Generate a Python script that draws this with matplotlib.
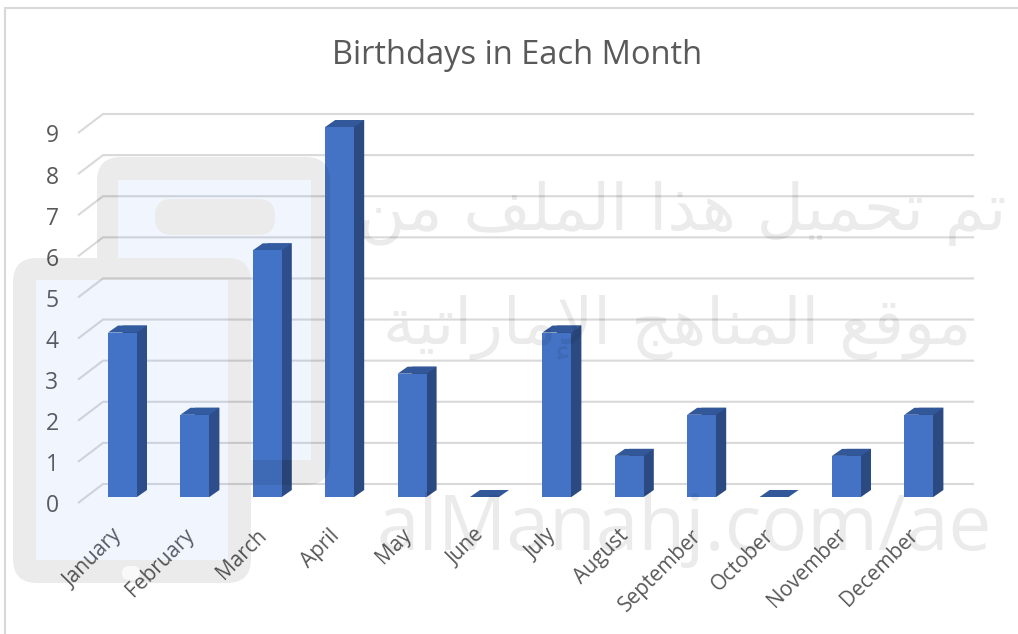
import matplotlib
matplotlib.use("Agg")
import matplotlib.pyplot as plt
from matplotlib.patches import Polygon, PathPatch, BoxStyle
from matplotlib.path import Path
from matplotlib.transforms import ScaledTranslation

months = ["January", "February", "March", "April", "May", "June", "July",
          "August", "September", "October", "November", "December"]
birthdays = [4, 2, 6, 9, 3, 0, 4, 1, 2, 0, 1, 2]
y_ticks = list(range(10))
title = "Birthdays in Each Month"

W, H = 1018, 634
FONT = "Open Sans"
TXT = "#595959"
FRONT, SIDE, TOP = "#4472C4", "#2C4A82", "#32589A"
GRID = "#D9D9D9"

fig = plt.figure(figsize=(W / 100, H / 100), dpi=100, facecolor="white")

# axes: x spans the category slots, y the value range, on the front plane
px_unit_x, px_unit_y = 72.4, 370 / 9
x0_px, y0_px = 122.5, 497
left_px, right_px = 78, 974
bottom_px, top_px = 504, 100
ax = fig.add_axes([left_px / W, 1 - bottom_px / H, (right_px - left_px) / W, (bottom_px - top_px) / H])
ax.set_xlim((left_px - x0_px) / px_unit_x, (right_px - x0_px) / px_unit_x)
ax.set_ylim((y0_px - bottom_px) / px_unit_y, (y0_px - top_px) / px_unit_y)
for s in ax.spines.values():
    s.set_visible(False)
ax.patch.set_alpha(0)

depth_x, depth_y = 10 / px_unit_x, 7 / px_unit_y
wall_x, wall_y = 25 / px_unit_x, 19 / px_unit_y
half = 14.5 / px_unit_x
x_left = ax.get_xlim()[0]
x_right = ax.get_xlim()[1]

# gridlines: floor/wall diagonal then across the back wall
for v in y_ticks:
    yb = v - 6.0 / px_unit_y
    ax.plot([x_left, x_left + wall_x, x_right], [yb, yb + wall_y, yb + wall_y],
            color=GRID, lw=1.5, zorder=1, solid_capstyle="butt", solid_joinstyle="miter", clip_on=False)

# oblique bars; side faces start behind the front face so no seam shows
for i, v in enumerate(birthdays):
    l, r = i - half, i + half
    if v > 0:
        ax.add_patch(Polygon([(i, 0), (r, 0), (r + depth_x, depth_y), (r + depth_x, v + depth_y), (i, v + depth_y)],
                             fc=SIDE, ec="none", zorder=3))
    ax.add_patch(Polygon([(l, v), (l + depth_x, v + depth_y), (r + depth_x, v + depth_y), (r, v)],
                         fc=TOP, ec="none", zorder=3.5))
    if v > 0:
        ax.bar(i, v, width=2 * half, color=FRONT, zorder=4, linewidth=0)

ax.set_yticks(y_ticks)
ax.set_yticklabels([str(v) for v in y_ticks], fontfamily=FONT, fontsize=16.5, color=TXT)
ax.tick_params(axis="y", length=0, pad=14)
for lab in ax.get_yticklabels():
    lab.set_transform(lab.get_transform() + ScaledTranslation(0, -6.5 / 100, fig.dpi_scale_trans))

ax.set_xticks(range(len(months)))
ax.set_xticklabels(months, fontfamily=FONT, fontsize=15, color=TXT, rotation=45,
                   ha="right", va="top", rotation_mode="anchor")
ax.tick_params(axis="x", length=0, pad=15)
for lab in ax.get_xticklabels():
    lab.set_transform(lab.get_transform() + ScaledTranslation(-11 / 100, 0, fig.dpi_scale_trans))

fig.text(517 / W, 1 - 56 / H, title, fontfamily=FONT, fontsize=23.5, color=TXT, ha="center", va="center")

# chart frame
ov = fig.add_axes([0, 0, 1, 1], zorder=5)
ov.set_xlim(0, W)
ov.set_ylim(H, 0)
ov.axis("off")
ov.plot([5, 5, W], [H, 8, 8], color="#D9D9D9", lw=1.5, solid_joinstyle="miter")


# site watermark that sits over the chart
def rrect(x0, y0, x1, y1, r):
    return BoxStyle("Round", pad=0, rounding_size=r)(x0, y0, x1 - x0, y1 - y0, 1)


def rect(x0, y0, x1, y1):
    return Path([(x0, y0), (x0, y1), (x1, y1), (x1, y0), (x0, y0)], closed=True)


def signed_area(path):
    v = path.to_polygons(closed_only=True)[0]
    return 0.5 * sum(a[0] * b[1] - b[0] * a[1] for a, b in zip(v[:-1], v[1:]))


def hole(outer, inner):
    """Compound path with inner wound against outer, so inner stays empty."""
    if signed_area(outer) * signed_area(inner) > 0:
        inner = Path(inner.to_polygons(closed_only=True)[0][::-1], closed=True)
    return Path.make_compound_path(outer, inner)


back_outer = rrect(97, 157, 330, 485, 24)
back_inner = rect(118, 180, 311, 460)
pill = rrect(155, 199, 275, 235, 17)
front_outer = rrect(13, 258, 251, 583, 24)
front_inner = rect(36, 280, 228, 560)
GRAY_ALPHA = 0.08

# the front tablet hides the back one
mask = PathPatch(hole(rect(0, 0, W, H), front_outer), transform=ov.transData)
p = PathPatch(hole(back_outer, back_inner), fc="black", ec="none", alpha=GRAY_ALPHA)
ov.add_patch(p)
p.set_clip_path(mask)
p = PathPatch(hole(back_inner, pill), fc="#3B82F6", ec="none", alpha=0.075)
ov.add_patch(p)
p.set_clip_path(mask)
ov.add_patch(PathPatch(pill, fc="black", ec="none", alpha=GRAY_ALPHA))

ov.add_patch(PathPatch(hole(front_outer, front_inner), fc="black", ec="none", alpha=GRAY_ALPHA))
ov.add_patch(PathPatch(front_inner, fc="#3B82F6", ec="none", alpha=0.075))
ov.add_patch(PathPatch(rrect(122, 566, 140, 580, 7), fc="white", ec="none", alpha=0.7))

arabic_1 = ("\uFE97\uFEE2 \uFE97\uFEA4\uFEE4\uFEF4\uFEDE \uFEEB\uFEAC\uFE8D "
            "\uFE8D\uFEDF\uFEE4\uFEE0\uFED2 \uFEE3\uFEE6")
arabic_2 = ("\uFEE3\uFEEE\uFED7\uFECA \uFE8D\uFEDF\uFEE4\uFEE8\uFE8E\uFEEB\uFE9E "
            "\uFE8D\uFEF9\uFEE3\uFE8E\uFEAD\uFE8D\uFE97\uFEF4\uFE94")
wm = dict(color="black", alpha=GRAY_ALPHA, ha="center", va="center", zorder=6)
ov.text(682, 214, arabic_1[::-1], fontfamily="DejaVu Sans", fontsize=47, **wm)
ov.text(677, 328, arabic_2[::-1], fontfamily="DejaVu Sans", fontsize=46, **wm)
ov.text(684, 530, "alManahj.com/ae", fontfamily=FONT, fontsize=55, **wm)

fig.savefig("out.png", dpi=100)
